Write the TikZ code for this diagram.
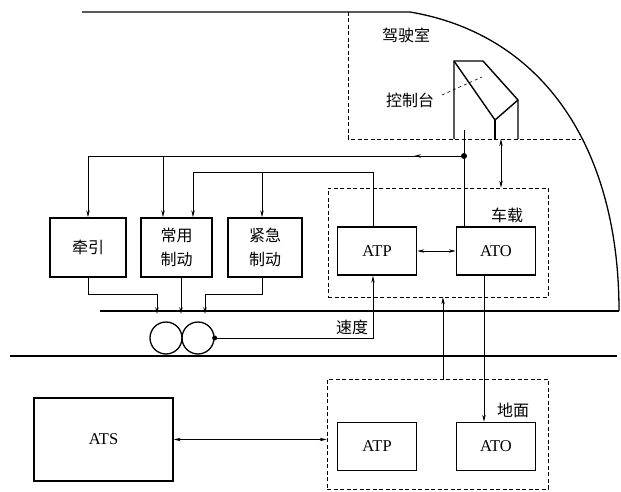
\documentclass[tikz,border=0pt]{standalone}
\usepackage{fontspec}
\setmainfont{Liberation Serif}
\newfontfamily\cjk{Noto Sans CJK SC}
\usetikzlibrary{arrows.meta,decorations.markings}

\begin{document}
\begin{tikzpicture}[x=1pt, y=-1pt,
        block/.style={rectangle, draw, line width=1.5pt, minimum height=59pt, inner sep=0pt, align=center, font=\cjk\fontsize{16}{24}\selectfont},
        unit/.style={rectangle, draw, line width=1.5pt, minimum width=79pt, minimum height=48pt, inner sep=0pt, font=\fontsize{16.5}{18}\selectfont},
        group/.style={draw, line width=0.7pt, dash pattern=on 4pt off 2.5pt},
        link/.style={line width=0.6pt},
        arr/.style={-{Stealth[length=7pt, width=3.4pt]}},
        darr/.style={{Stealth[length=7pt, width=3.4pt]}-{Stealth[length=7pt, width=3.4pt]}},
        rail/.style={line width=1.3pt},
        tag/.style={font=\cjk\fontsize{16}{18}\selectfont}
    ]
    \useasboundingbox (0,0) rectangle (621,492);

    % car body, cab and track
    \draw[rail] (82,12) -- (410,12) .. controls (545,35) and (619,150) .. (619,311);
    \draw[rail] (100,311) -- (619,311);
    \draw[rail] (10,356) -- (617,356);
    \draw[group] (348,12) -- (348,139) -- (581,139);
    \node[tag] (cabin) at (406,35) {驾驶室};

    % console
    \draw[line width=1.4pt] (454,139) -- (454,61) -- (483,61) -- (518,100) -- (518,139);
    \draw[line width=1.4pt] (454,61) -- (495,120) -- (518,100);
    \draw[line width=1.4pt] (495,120) -- (495,139);
    \node[tag] (desk) at (410,100) {控制台};
    \draw[link, dashed] (442,95) -- (482,77);

    % drive and brake units
    \node[block, minimum width=76pt] (qy) at (88,247.5) {牵引};
    \node[block, minimum width=71pt] (cy) at (176.5,247.5) {常用\\制动};
    \node[block, minimum width=74pt] (jj) at (265,247.5) {紧急\\制动};

    % on-board and wayside equipment
    \node[group, minimum width=220pt, minimum height=109pt] (onb) at (438,242.5) {};
    \node[group, minimum width=221pt, minimum height=110pt] (gnd) at (437.5,434) {};
    \node[unit] (atp) at (377,251) {ATP};
    \node[unit] (ato) at (496,251) {ATO};
    \node[unit] (gatp) at (377,446.5) {ATP};
    \node[unit] (gato) at (496,446.5) {ATO};
    \node[unit, minimum width=139pt, minimum height=83pt] (ats) at (103.5,439.5) {ATS};
    \node[tag] (onlabel) at (507,215) {车载};
    \node[tag] (gndlabel) at (513,410) {地面};

    % wheels
    \node[circle, draw, rail, minimum size=32pt, inner sep=0pt] (w1) at (166,338) {};
    \node[circle, draw, rail, minimum size=32pt, inner sep=0pt] (w2) at (198,338) {};

    % commands from the cab and the ATP
    \coordinate (cab) at (464,130);
    \coordinate (sig) at (464,156);
    \draw[link] (ato.north -| cab) -- (cab);
    \fill (sig) circle (3pt);
    \draw[link, arr, postaction={decorate}, decoration={markings, mark=at position 50pt with {\arrow{Stealth[length=7pt, width=3.4pt]}}}]
        (sig) -- (sig -| qy.north) -- (qy.north);
    \draw[link, arr] (163,156) -- (163,156 |- cy.north);
    \draw[link] (373,0 |- atp.north) -- (373,172) -- (193,172);
    \draw[link, arr] (193,172) -- (193,172 |- cy.north);
    \draw[link, arr] (262,172) -- (262,172 |- jj.north);
    \draw[link, darr] (501,139) -- (501,0 |- onb.north);

    % outputs to the wheels
    \draw[link, arr] (qy.south) -- (88,294) -- (157,294) -- (157,314);
    \draw[link, arr] (181,0 |- cy.south) -- (181,314);
    \draw[link, arr] (262,0 |- jj.south) -- (262,294) -- (205,294) -- (205,314);

    % speed feedback
    \fill (w2.east) circle (2.5pt);
    \draw[link, arr] (w2.east) -- (373,338) -- (373,0 |- atp.south);
    \node[tag] (speed) at (352,327) {速度};

    % links between units
    \draw[link, darr] (atp) -- (ato);
    \draw[link, arr] (443,0 |- gnd.north) -- (443,0 |- onb.south);
    \draw[link, arr] (484,0 |- ato.south) -- (484,0 |- gato.north);
    \draw[link, darr] (ats) -- (ats -| gnd.west);
\end{tikzpicture}
\end{document}
